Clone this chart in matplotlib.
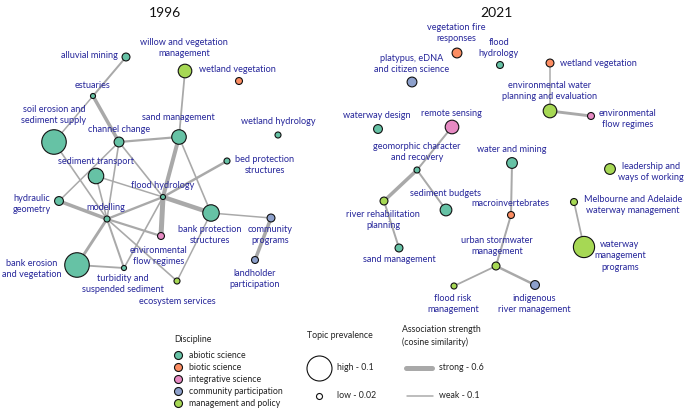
import matplotlib
matplotlib.use("Agg")
from matplotlib import pyplot as plt

# discipline colours
disciplines = ["abiotic science", "biotic science", "integrative science",
               "community participation", "management and policy"]
disc_colors = ["#66c2a5", "#fc8d62", "#e78ac3", "#8da0cb", "#a6d854"]

# ---- 1996 network ----
topics_96 = ["alluvial mining", "willow and vegetation\nmanagement", "wetland vegetation",
             "estuaries", "soil erosion and\nsediment supply", "channel change",
             "sand management", "wetland hydrology", "bed protection\nstructures",
             "sediment transport", "hydraulic\ngeometry", "flood hydrology", "modelling",
             "bank protection\nstructures", "community\nprograms",
             "environmental\nflow regimes", "landholder\nparticipation",
             "bank erosion\nand vegetation", "turbidity and\nsuspended sediment",
             "ecosystem services"]
disc_96 = [0, 4, 1, 0, 0, 0, 0, 0, 0, 0, 0, 0, 0, 0, 3, 2, 3, 0, 0, 4]
prev_96 = [0.028, 0.052, 0.024, 0.016, 0.098, 0.036, 0.056, 0.02, 0.02,
           0.06, 0.032, 0.016, 0.02, 0.064, 0.028, 0.024, 0.024, 0.098, 0.016, 0.02]
# layout (node x, y)
pos_96 = [(126, 57), (185, 71), (239, 81), (93, 96), (54, 142), (119, 142),
          (179, 137), (278, 135), (227, 161), (96, 176), (59, 201), (163, 197),
          (107, 219), (211, 213), (271, 218), (161, 236), (255, 260), (77, 265),
          (124, 268), (177, 281)]
# label anchor (x, y, ha)
lab_96 = [(118, 56, "right"), (184, 48, "center"), (199, 70, "left"),
          (93, 85, "center"), (54, 115, "center"), (119, 129, "center"),
          (178, 117, "center"), (278, 122, "center"), (235, 165, "left"),
          (96, 161, "center"), (51, 204, "right"), (163, 185, "center"),
          (106, 208, "center"), (210, 235, "center"), (270, 235, "center"),
          (159, 256, "center"), (255, 279, "center"), (62, 269, "right"),
          (123, 284, "center"), (177, 301, "center")]
edges_96 = [(0, 3, 0.17), (3, 4, 0.1), (3, 5, 0.39), (5, 6, 0.2), (5, 10, 0.1),
            (5, 12, 0.12), (5, 11, 0.12), (4, 12, 0.12), (9, 11, 0.1), (9, 12, 0.12),
            (6, 11, 0.46), (6, 13, 0.12), (6, 1, 0.14), (11, 8, 0.24), (11, 13, 0.53),
            (11, 15, 0.6), (11, 12, 0.22), (11, 18, 0.12), (10, 12, 0.39),
            (12, 17, 0.3), (12, 18, 0.17), (12, 15, 0.2), (12, 19, 0.12),
            (17, 18, 0.15), (13, 14, 0.1), (13, 19, 0.1), (14, 16, 0.39)]

# ---- 2021 network ----
topics_21 = ["vegetation fire\nresponses", "flood\nhydrology",
             "platypus, eDNA\nand citizen science", "wetland vegetation",
             "environmental water\nplanning and evaluation", "environmental\nflow regimes",
             "waterway design", "remote sensing", "geomorphic character\nand recovery",
             "water and mining", "leadership and\nways of working",
             "river rehabilitation\nplanning", "sediment budgets", "macroinvertebrates",
             "Melbourne and Adelaide\nwaterway management", "sand management",
             "urban stormwater\nmanagement", "waterway\nmanagement\nprograms",
             "flood risk\nmanagement", "indigenous\nriver management"]
disc_21 = [1, 0, 3, 1, 4, 2, 0, 2, 0, 0, 4, 4, 0, 1, 4, 0, 4, 4, 4, 3]
prev_21 = [0.036, 0.024, 0.036, 0.028, 0.052, 0.024, 0.032, 0.052, 0.02, 0.04,
           0.04, 0.028, 0.044, 0.024, 0.024, 0.028, 0.028, 0.084, 0.02, 0.032]
pos_21 = [(457, 53), (500, 65), (412, 82), (550, 63), (550, 111), (591, 116),
          (378, 129), (452, 127), (417, 170), (512, 163), (610, 169), (384, 201),
          (446, 210), (511, 215), (574, 202), (399, 248), (496, 266), (584, 247),
          (454, 286), (535, 285)]
lab_21 = [(456, 33, "center"), (499, 48, "center"), (412, 64, "center"),
          (560, 63, "left"), (550, 91, "center"), (628, 119, "center"),
          (377, 116, "center"), (451, 113, "center"), (417, 152, "center"),
          (512, 150, "center"), (651, 172, "center"), (383, 220, "center"),
          (446, 193, "center"), (510, 204, "center"), (633, 205, "center"),
          (399, 259, "center"), (497, 246, "center"), (620, 256, "center"),
          (453, 304, "center"), (534, 304, "center")]
edges_21 = [(3, 4, 0.1), (4, 5, 0.3), (7, 8, 0.17), (8, 11, 0.39), (8, 12, 0.17),
            (11, 15, 0.17), (9, 13, 0.17), (13, 16, 0.17), (16, 18, 0.14),
            (16, 19, 0.24), (14, 17, 0.14)]

LABEL_COLOR = "#25259a"
EDGE_COLOR = "#a9a9a9"
FONT = ["Lato", "DejaVu Sans"]


def node_size(p):
    # prevalence 0.02 -> radius 3 px, 0.1 -> radius 12.5 px
    r = 3 + (p - 0.02) / 0.08 * 9.5
    return (2 * r * 0.72) ** 2


def edge_width(s):
    # cosine 0.1 -> 1.5 px, 0.6 -> 5 px
    return (1.5 + (s - 0.1) / 0.5 * 3.5) * 0.72


def draw_network(ax, topics, disc, prev, pos, labels, edges):
    for a, b, s in edges:
        ax.plot([pos[a][0], pos[b][0]], [pos[a][1], pos[b][1]], color=EDGE_COLOR,
                lw=edge_width(s), solid_capstyle="round", zorder=1)
    xs = [p[0] for p in pos]
    ys = [p[1] for p in pos]
    ax.scatter(xs, ys, s=[node_size(p) for p in prev],
               c=[disc_colors[d] for d in disc], edgecolors="#111111",
               linewidths=0.8, zorder=2)
    for t, (x, y, ha) in zip(topics, labels):
        ax.text(x, y, t, ha=ha, va="center", fontsize=6.6, color=LABEL_COLOR,
                family=FONT, linespacing=1.3, multialignment="center", zorder=3)


fig = plt.figure(figsize=(6.85, 4.09), dpi=100)
ax = fig.add_axes([0, 0, 1, 1])
ax.set_xlim(0, 685)
ax.set_ylim(409, 0)
ax.axis("off")

ax.text(165, 13, "1996", ha="center", va="center", fontsize=10, family=FONT, color="#111111")
ax.text(496, 13, "2021", ha="center", va="center", fontsize=10, family=FONT, color="#111111")

draw_network(ax, topics_96, disc_96, prev_96, pos_96, lab_96, edges_96)
draw_network(ax, topics_21, disc_21, prev_21, pos_21, lab_21, edges_21)

# ---- legend ----
LEG = "#222222"
ax.text(174, 339, "Discipline", ha="left", va="center", fontsize=6.3, family=FONT, color=LEG)
for i, (name, col) in enumerate(zip(disciplines, disc_colors)):
    y = 355 + i * 12
    ax.scatter([178], [y], s=(2 * 4 * 0.72) ** 2, c=col, edgecolors="#111111",
               linewidths=0.8, zorder=2)
    ax.text(189, y, name, ha="left", va="center", fontsize=6.3, family=FONT, color=LEG)

ax.text(307, 336, "Topic prevalence", ha="left", va="center", fontsize=6.3, family=FONT, color=LEG)
for p, y, lab in [(0.1, 368, "high - 0.1"), (0.02, 396, "low - 0.02")]:
    ax.scatter([319], [y], s=node_size(p), c="white", edgecolors="#111111",
               linewidths=0.8, zorder=2)
    ax.text(337, y, lab, ha="left", va="center", fontsize=6.3, family=FONT, color=LEG)

ax.text(402, 336, "Association strength\n(cosine similarity)", ha="left", va="center",
        fontsize=6.3, family=FONT, color=LEG, linespacing=1.35)
for s, y, lab, x0, x1 in [(0.6, 368, "strong - 0.6", 406, 432), (0.1, 396, "weak - 0.1", 407, 433)]:
    ax.plot([x0, x1], [y, y], color=EDGE_COLOR, lw=edge_width(s), solid_capstyle="round")
    ax.text(439, y, lab, ha="left", va="center", fontsize=6.3, family=FONT, color=LEG)

fig.savefig("out.png", dpi=100)
